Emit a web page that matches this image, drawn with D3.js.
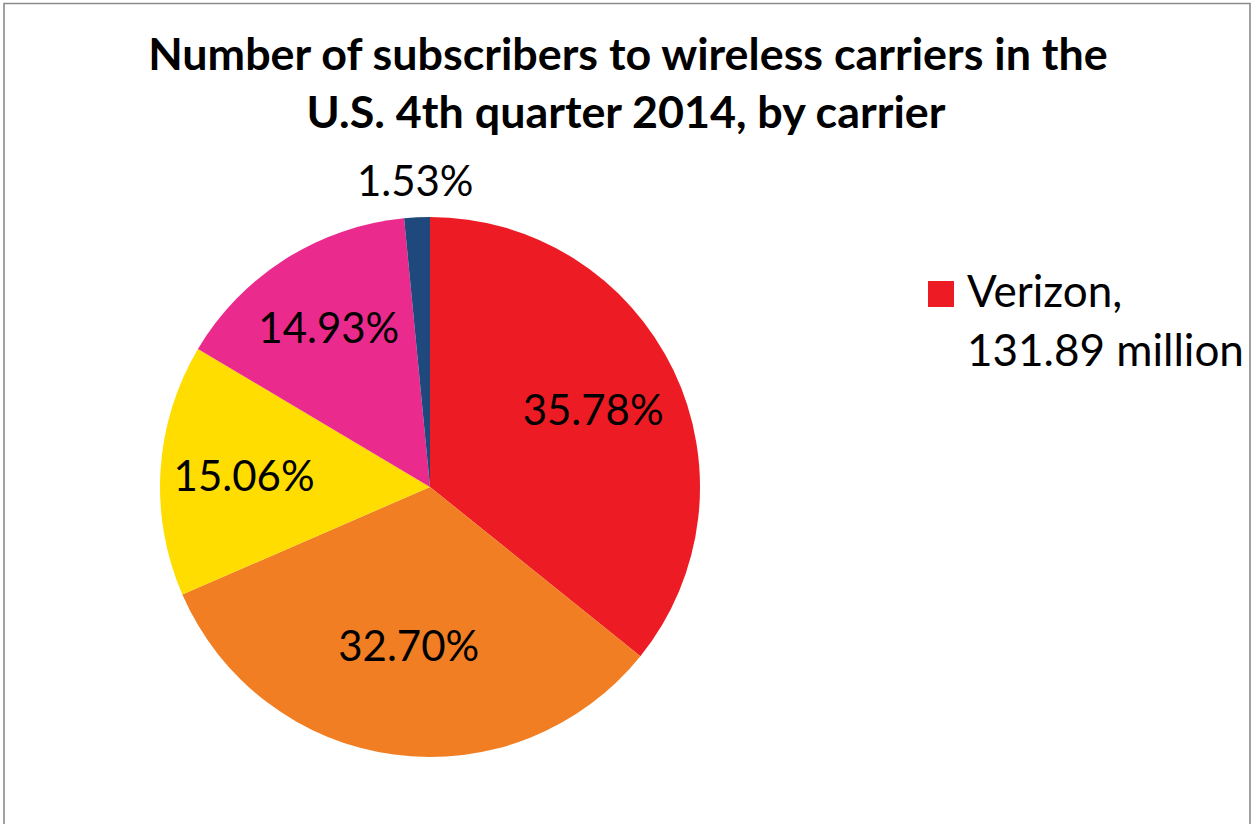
<!DOCTYPE html>
<html>
<head>
<meta charset="utf-8">
<script src="https://cdn.jsdelivr.net/npm/d3@7"></script>
<style>
  html, body { margin: 0; padding: 0; background: #fff; }
  svg { display: block; }
</style>
</head>
<body>
<script>
// chart data
const carriers = ["Verizon", "AT&T", "Sprint", "T-Mobile", "U.S. Cellular"];
const shares = [35.78, 32.70, 15.06, 14.93, 1.53];
const colors = ["#ED1C24", "#F17E22", "#FFDD00", "#EB2A8E", "#1F497D"];
const titleLines = [
  "Number of subscribers to wireless carriers in the",
  "U.S. 4th quarter 2014, by carrier"
];
const legendLines = ["Verizon,", "131.89 million"];

const width = 1252;
const height = 824;
const font = "Lato, 'Open Sans', sans-serif";

// label distance from the centre, as a fraction of the radius (Excel best fit)
const labelRadius = [0.67, 0.59, 0.69, 0.70, 1.14];

const svg = d3.select("body")
  .append("svg")
  .attr("width", width)
  .attr("height", height);

// outer frame (bottom is cut off in the original)
svg.append("path")
  .attr("d", `M4,${height + 5}V3.5H1250V${height + 5}`)
  .attr("fill", "none")
  .attr("stroke", "#8a8a8a")
  .attr("stroke-width", 1.6);

// scale a text node's font size so it spans the given width
function fit(sel, w) {
  const len = sel.node().getComputedTextLength();
  const fs = parseFloat(sel.attr("font-size"));
  sel.attr("font-size", fs * w / len);
  return sel;
}

// title
const title = svg.append("g")
  .attr("font-family", font)
  .attr("font-weight", "bold")
  .attr("text-anchor", "middle");

const t1 = title.append("text")
  .attr("x", 628).attr("y", 70)
  .attr("font-size", 40)
  .text(titleLines[0]);
fit(t1, 960);
title.append("text")
  .attr("x", 626).attr("y", 128)
  .attr("font-size", t1.attr("font-size"))
  .text(titleLines[1]);

// pie
const cx = 430, cy = 487, r = 270;
const pie = d3.pie().sort(null).value(d => d)(shares);
const arc = d3.arc().innerRadius(0).outerRadius(r);

const g = svg.append("g").attr("transform", `translate(${cx},${cy})`);

g.selectAll("path")
  .data(pie)
  .join("path")
  .attr("d", arc)
  .attr("fill", (d, i) => colors[i]);

const probe = g.append("text")
  .attr("font-family", font)
  .attr("font-size", 40)
  .text("35.78%");
fit(probe, 141);
const labelSize = +probe.attr("font-size");
probe.remove();

g.selectAll("text.label")
  .data(pie)
  .join("text")
  .attr("class", "label")
  .attr("font-family", font)
  .attr("font-size", labelSize)
  .attr("fill", "#000")
  .attr("text-anchor", "middle")
  .attr("dominant-baseline", "central")
  .attr("transform", (d, i) => {
    const lr = r * labelRadius[i];
    const [x, y] = d3.arc().innerRadius(lr).outerRadius(lr).centroid(d);
    return `translate(${x},${y})`;
  })
  .text(d => d3.format(".2f")(d.data) + "%");

// legend (only the first entry is visible in the original)
const legend = svg.append("g").attr("font-family", font);
legend.append("rect")
  .attr("x", 928).attr("y", 281)
  .attr("width", 26).attr("height", 26)
  .attr("fill", colors[0]);
const l2 = legend.append("text")
  .attr("x", 967).attr("y", 366)
  .attr("font-size", 40)
  .text(legendLines[1]);
fit(l2, 277);
legend.append("text")
  .attr("x", 967).attr("y", 307)
  .attr("font-size", l2.attr("font-size"))
  .text(legendLines[0]);
</script>
</body>
</html>
